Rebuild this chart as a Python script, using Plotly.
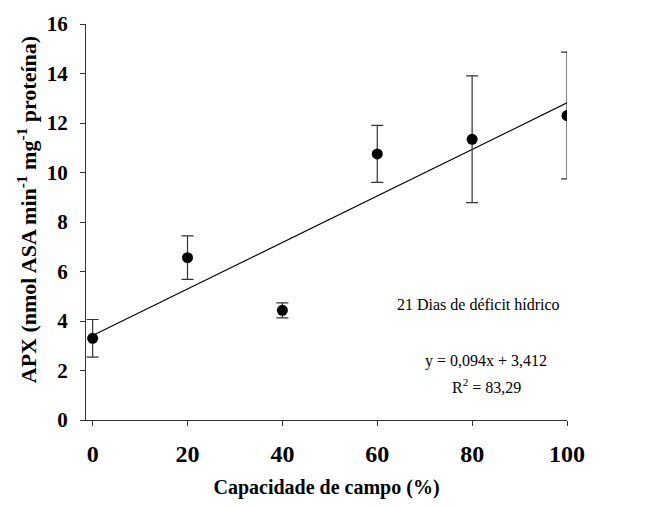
import plotly.graph_objects as go

capacidade = [0, 20, 40, 60, 80, 100]
apx = [3.30, 6.56, 4.43, 10.75, 11.34, 12.30]
apx_err = [0.76, 0.88, 0.30, 1.15, 2.56, 2.56]
slope, intercept = 0.094, 3.412
x_ticks = [0, 20, 40, 60, 80, 100]
y_ticks = [0, 2, 4, 6, 8, 10, 12, 14, 16]

fit_x = [0, 100]
fit_y = [slope * v + intercept for v in fit_x]

FONT = "Times New Roman, Liberation Serif, serif"

fig = go.Figure()
fig.add_trace(go.Scatter(x=fit_x, y=fit_y, mode="lines",
                         line=dict(color="black", width=1.2), showlegend=False))
fig.add_trace(go.Scatter(x=capacidade, y=apx, mode="markers",
                         marker=dict(color="black", size=11),
                         error_y=dict(type="data", array=apx_err, visible=True,
                                      color="#333", thickness=1.2, width=6),
                         showlegend=False))

fig.add_annotation(x=81.3, y=4.67, text="21 Dias de déficit hídrico", showarrow=False,
                   font=dict(family=FONT, size=16, color="black"))
fig.add_annotation(x=82.9, y=2.38, text="y = 0,094x + 3,412", showarrow=False,
                   font=dict(family=FONT, size=16, color="black"))
fig.add_annotation(x=83.1, y=1.39, text="R<sup>2</sup> = 83,29", showarrow=False,
                   font=dict(family=FONT, size=16, color="black"))

# y-axis title placed as a rotated annotation to match its position
fig.add_annotation(xref="paper", yref="paper", x=-(86 - 27) / 481, y=(428 - 214) / 404,
                   xanchor="center", yanchor="middle", textangle=-90, showarrow=False,
                   text="<b>APX (nmol ASA min<sup>-1</sup> mg<sup>-1</sup> proteína)</b>",
                   font=dict(family=FONT, size=22, color="black"))

fig.update_layout(
    width=670, height=507,
    margin=dict(l=86, r=103, t=24, b=79),
    plot_bgcolor="white", paper_bgcolor="white",
    font=dict(family=FONT, color="black"),
    xaxis=dict(range=[-1.4, 100], tickvals=x_ticks, showgrid=False, zeroline=False,
               showline=True, linecolor="#333", linewidth=1.2,
               ticks="outside", ticklen=5, tickcolor="#333",
               ticklabelstandoff=7,
               tickfont=dict(family=FONT, size=24, color="black", weight="bold"),
               title=dict(text="<b>Capacidade de campo (%)</b>", standoff=14,
                          font=dict(family=FONT, size=20, color="black"))),
    yaxis=dict(range=[0, 16], tickvals=y_ticks, showgrid=False, zeroline=False,
               showline=True, linecolor="#333", linewidth=1.2,
               ticks="outside", ticklen=5, tickcolor="#333",
               ticklabelstandoff=8,
               tickfont=dict(family=FONT, size=21, color="black", weight="bold")),
)

fig.write_html("out.html")
